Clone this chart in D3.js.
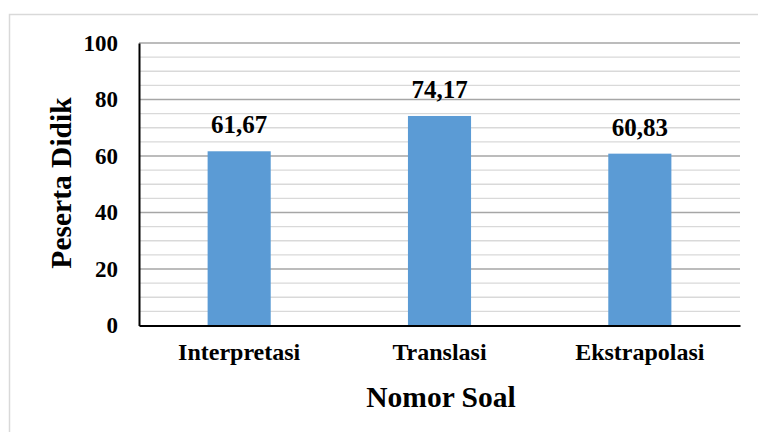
<!DOCTYPE html>
<html>
<head>
<meta charset="utf-8">
<script src="https://cdn.jsdelivr.net/npm/d3@7"></script>
<style>
  html, body { margin: 0; padding: 0; background: #fff; }
  svg { display: block; }
  text { font-family: "Liberation Serif", "Times New Roman", serif; font-weight: bold; fill: #000; }
</style>
</head>
<body>
<svg id="chart" width="758" height="432"></svg>
<script>
const categories = ["Interpretasi", "Translasi", "Ekstrapolasi"];
const values = [61.67, 74.17, 60.83];
const valueLabels = ["61,67", "74,17", "60,83"];
const yTicks = [0, 20, 40, 60, 80, 100];
const yMinorTicks = [5, 10, 15, 25, 30, 35, 45, 50, 55, 65, 70, 75, 85, 90, 95];
const xTitle = "Nomor Soal";
const yTitle = "Peserta Didik";

(function () {
const svg = d3.select("#chart");
const pLeft = 139, pRight = 740, pTop = 43, pBottom = 325.5;

// outer chart border
svg.append("rect")
  .attr("x", 9.5).attr("y", 14.5)
  .attr("width", 780).attr("height", 440)
  .attr("fill", "none").attr("stroke", "#d9d9d9").attr("stroke-width", 1.5);

const x = d3.scaleBand().domain(categories).range([pLeft, pRight])
  .paddingInner(0.685).paddingOuter(0.3425);
const y = d3.scaleLinear().domain([0, 100]).range([pBottom, pTop]);

// minor gridlines
svg.append("g").selectAll("line").data(yMinorTicks).join("line")
  .attr("x1", pLeft).attr("x2", pRight)
  .attr("y1", d => y(d)).attr("y2", d => y(d))
  .attr("stroke", "#d9d9d9").attr("stroke-width", 1.3);

// major gridlines
svg.append("g").selectAll("line").data(yTicks.filter(d => d > 0)).join("line")
  .attr("x1", pLeft).attr("x2", pRight)
  .attr("y1", d => y(d)).attr("y2", d => y(d))
  .attr("stroke", "#a6a6a6").attr("stroke-width", 1.3);

// bars
svg.append("g").selectAll("rect").data(values).join("rect")
  .attr("x", (d, i) => x(categories[i]))
  .attr("width", x.bandwidth())
  .attr("y", d => y(d))
  .attr("height", d => y(0) - y(d))
  .attr("fill", "#5b9bd5");

// value labels
svg.append("g").selectAll("text").data(values).join("text")
  .attr("x", (d, i) => x(categories[i]) + x.bandwidth() / 2)
  .attr("y", d => y(d) - 18)
  .attr("text-anchor", "middle")
  .attr("font-size", 25)
  .text((d, i) => valueLabels[i]);

// y axis
const yAxis = d3.axisLeft(y).tickValues(yTicks).tickSize(0).tickPadding(21);
const gy = svg.append("g").attr("transform", `translate(${pLeft},0)`).call(yAxis);
gy.select(".domain").attr("stroke", "#000").attr("stroke-width", 2);
gy.selectAll("text").attr("font-size", 23).attr("font-family", "Liberation Serif").attr("font-weight", "bold").attr("fill", "#000");

// x axis
const xAxis = d3.axisBottom(x).tickSize(0).tickPadding(17);
const gx = svg.append("g").attr("transform", `translate(0,${pBottom})`).call(xAxis);
gx.select(".domain").attr("stroke", "#000").attr("stroke-width", 2);
gx.selectAll("text").attr("font-size", 24).attr("font-family", "Liberation Serif").attr("font-weight", "bold").attr("fill", "#000");

// titles
svg.append("text")
  .attr("x", 441).attr("y", 407)
  .attr("text-anchor", "middle").attr("font-size", 29.5)
  .text(xTitle);

svg.append("text")
  .attr("transform", "translate(71,183) rotate(-90)")
  .attr("text-anchor", "middle").attr("font-size", 29.5)
  .text(yTitle);
})();
</script>
</body>
</html>
